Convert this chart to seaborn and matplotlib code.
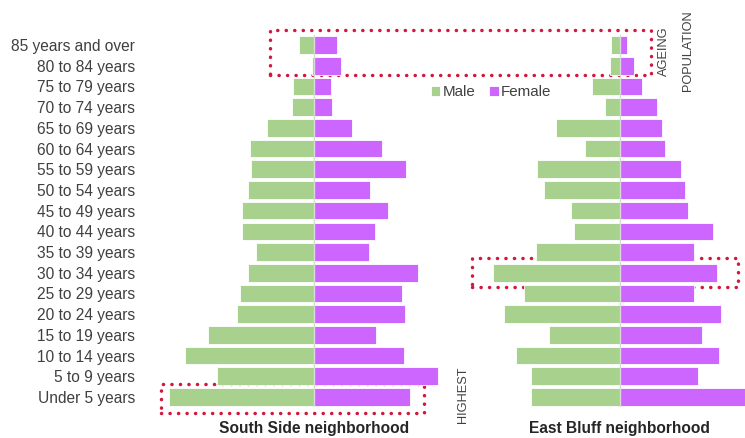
import matplotlib
matplotlib.use("Agg")
import matplotlib.pyplot as plt
from matplotlib.patches import Rectangle
import numpy as np
import pandas as pd
import seaborn as sns

# Age groups, oldest at the top
age_groups = [
    "85 years and over", "80 to 84 years", "75 to 79 years", "70 to 74 years",
    "65 to 69 years", "60 to 64 years", "55 to 59 years", "50 to 54 years",
    "45 to 49 years", "40 to 44 years", "35 to 39 years", "30 to 34 years",
    "25 to 29 years", "20 to 24 years", "15 to 19 years", "10 to 14 years",
    "5 to 9 years", "Under 5 years",
]

# South Side neighborhood
south_male = [14.7, 2.3, 21.0, 22.0, 47.3, 64.0, 63.0, 66.3, 71.7, 71.7,
              57.7, 66.3, 73.7, 77.0, 106.3, 128.7, 97.0, 145.3]
south_female = [23.3, 26.7, 17.0, 18.3, 38.3, 67.7, 92.0, 56.0, 74.0, 61.3,
                55.0, 103.7, 87.7, 91.0, 62.3, 90.0, 123.7, 96.0]

# East Bluff neighborhood
east_male = [9.0, 10.0, 28.0, 15.3, 63.7, 35.3, 83.0, 75.7, 49.0, 45.7,
             84.0, 127.3, 95.7, 115.7, 71.3, 104.0, 89.3, 89.3]
east_female = [6.7, 14.3, 22.0, 37.3, 41.7, 45.0, 61.0, 65.0, 68.0, 92.7,
               73.7, 97.0, 74.3, 101.0, 82.0, 99.0, 77.7, 132.0]

sexes = ["Male", "Female"]
palette = {"Male": "#a9d18e", "Female": "#cc66ff"}
box_red = "#d2183c"
text_dark = "#404040"

W, H = 745, 438


def frame(male, female):
    return pd.DataFrame({
        "age": age_groups * 2,
        "sex": ["Male"] * len(age_groups) + ["Female"] * len(age_groups),
        "value": list(-np.asarray(male)) + list(female),
    })


sns.set_theme(style="white")
plt.rcParams["font.family"] = ["Liberation Sans", "DejaVu Sans"]

fig = plt.figure(figsize=(W / 100, H / 100), dpi=100)

# plot area in pixels: rows span from y=34.65 to y=407.35
top_px, bot_px = 34.65, 407.35
ax_b = (H - bot_px) / H
ax_h = (bot_px - top_px) / H

ax1 = fig.add_axes([160 / W, ax_b, 308 / W, ax_h])
ax2 = fig.add_axes([470 / W, ax_b, 275 / W, ax_h])

for ax, male, female, xlim in [
    (ax1, south_male, south_female, (-154, 154)),
    (ax2, east_male, east_female, (-150, 125)),
]:
    sns.barplot(data=frame(male, female), y="age", x="value", hue="sex",
                hue_order=sexes, order=age_groups, palette=palette,
                orient="h", dodge=False, width=0.855, saturation=1,
                edgecolor="white", linewidth=0.6, ax=ax, zorder=2)
    ax.axvline(0, color="#d9d9d9", lw=1.0, zorder=3)
    ax.set_xlim(*xlim)
    ax.set_ylim(len(age_groups) - 0.5, -0.5)
    ax.set_facecolor("none")
    for s in ax.spines.values():
        s.set_visible(False)
    ax.set_xticks([])
    ax.set_xlabel("")
    ax.set_ylabel("")

handles, labels = ax1.get_legend_handles_labels()
ax1.get_legend().remove()
ax2.get_legend().remove()
ax2.set_yticks([])

ax1.tick_params(axis="y", length=0, pad=18, labelsize=11.2, labelcolor=text_dark)
for lbl in ax1.get_yticklabels():
    lbl.set_horizontalalignment("right")

leg = fig.legend(handles, labels, loc="center", bbox_to_anchor=(491 / W, 1 - 92 / H),
                 ncol=2, frameon=False, fontsize=10.9, handlelength=0.65,
                 handleheight=0.65, handletextpad=0.15, columnspacing=0.9,
                 borderaxespad=0, borderpad=0)
for t in leg.get_texts():
    t.set_color(text_dark)

# Panel names under each pyramid
fig.text(314 / W, 1 - 433 / H, "South Side neighborhood", ha="center", va="baseline",
         fontsize=11.2, fontweight="bold", color="#262626")
fig.text(619 / W, 1 - 433 / H, "East Bluff neighborhood", ha="center", va="baseline",
         fontsize=11.2, fontweight="bold", color="#262626")


def dotted_box(x0, y0, x1, y1):
    """Dotted red outline, given in pixel coordinates from the top-left."""
    rect = Rectangle((x0 / W, 1 - y1 / H), (x1 - x0) / W, (y1 - y0) / H,
                     transform=fig.transFigure, fill=False, edgecolor=box_red,
                     linewidth=2.5, linestyle=(0, (0.05, 2.4)), capstyle="round",
                     zorder=-1)
    fig.patches.append(rect)


# Highlighted groups: older residents, youngest children, young adults
dotted_box(270, 30, 651, 75)
dotted_box(161, 384, 424, 413)
dotted_box(472, 258, 738, 287)

for x, y, s in [(663.5, 51, "AGEING"), (687.5, 50.5, "POPULATION"), (463, 395, "HIGHEST")]:
    fig.text(x / W, 1 - y / H, s, rotation=90, ha="center", va="center",
             fontsize=9.2, color=text_dark)

fig.savefig("out.png", dpi=100)
